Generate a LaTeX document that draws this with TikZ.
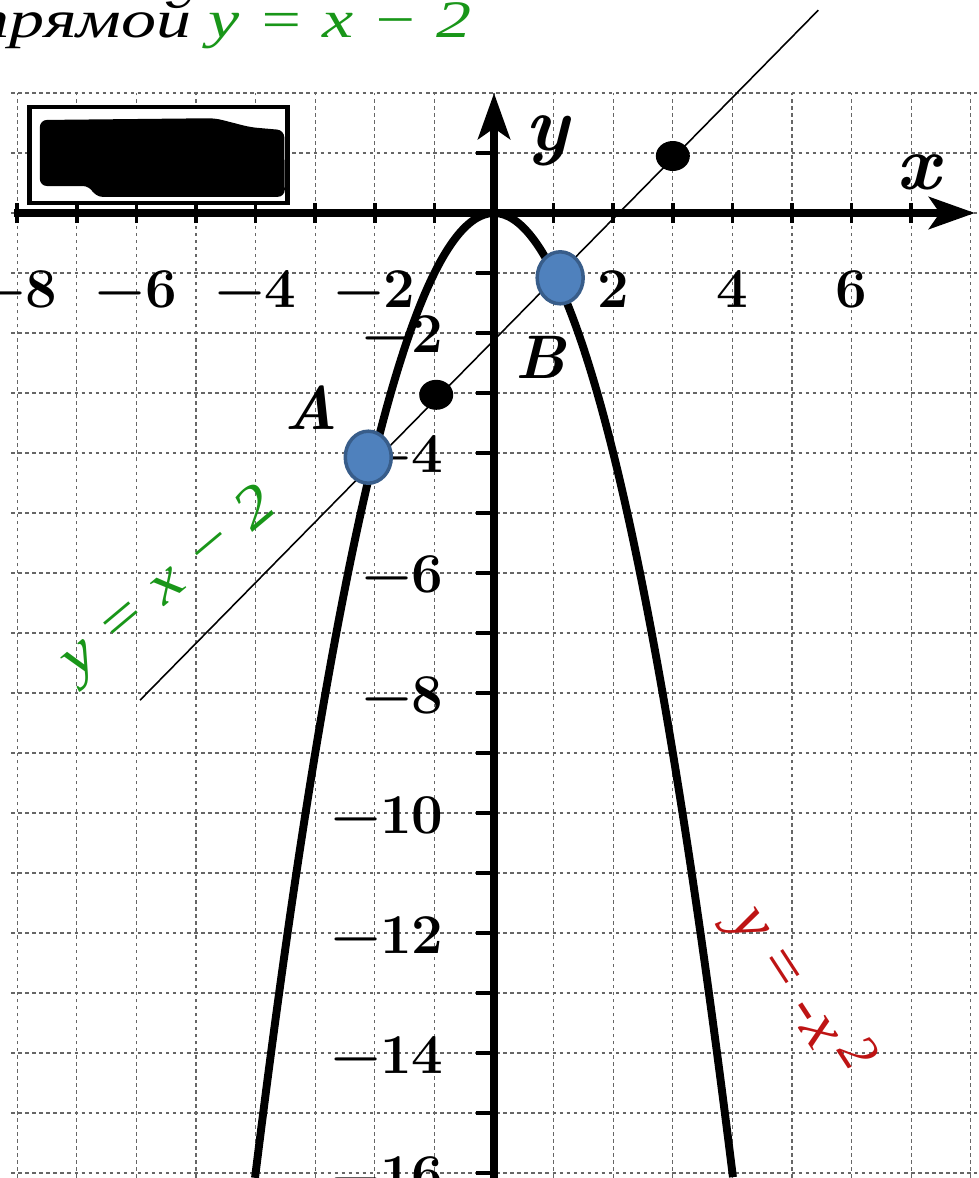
\documentclass[tikz,border=0pt]{standalone}
\usepackage{fontspec}
\usepackage{graphicx}
\newfontfamily\slantfont{Liberation Serif}
\usetikzlibrary{arrows.meta,shapes.geometric}
\definecolor{lineGreen}{RGB}{25,150,25}
\definecolor{curveRed}{RGB}{190,20,20}
\definecolor{pointBlue}{RGB}{79,129,189}
\definecolor{pointRim}{RGB}{56,93,138}

\begin{document}
\begin{tikzpicture}[x=1.192cm,y=1.2cm,>={Stealth[length=26pt,width=18pt,inset=6pt]}]
  \tikzstyle{grid line} = [black!60, line width=0.7pt, dash pattern=on 2pt off 2pt];
  \tikzstyle{axis} = [line width=5pt, ->];
  \tikzstyle{axis tick} = [line width=2pt];
  \tikzstyle{tick label} = [inner sep=0pt, font=\fontsize{32}{32}\selectfont\bfseries];
  \tikzstyle{axis name} = [font=\fontsize{44}{44}\selectfont\bfseries\itshape];
  \tikzstyle{big point} = [ellipse, minimum width=0.92cm, minimum height=1.04cm, fill=pointBlue, draw=pointRim, line width=2pt];
  \tikzstyle{small point} = [ellipse, minimum width=0.68cm, minimum height=0.6cm, fill=black, inner sep=0pt];
  \tikzstyle{point label} = [font=\fontsize{35}{35}\selectfont\bfseries\itshape];
  \useasboundingbox (-8.289,-16.083) rectangle (8.121,3.55);

  % grid of the scan
  \foreach \x in {-8,...,8} \draw[grid line] (\x,-16.2) -- (\x,2);
  \foreach \y in {-16,...,2} \draw[grid line] (-8.1,\y) -- (8.1,\y);

  % blacked-out box
  \draw[line width=2.8pt, fill=white] (-7.79,1.767) rectangle (-3.46,0.167);
  \fill[rounded corners=4pt] (-7.62,1.55) -- (-4.68,1.58) -- (-4.09,1.43) -- (-3.52,1.38) -- (-3.51,0.27) -- (-6.69,0.27) -- (-6.78,0.45) -- (-7.62,0.45) -- cycle;

  % axes
  \draw[axis] (-8.05,0) -- (8.07,0);
  \draw[axis] (0,-16.2) -- (0,2);
  \foreach \x in {-8,...,-1,1,2,...,7} \draw[axis tick] (\x,-0.17) -- (\x,0.17);
  \foreach \y in {-16,...,-1,1} \draw[axis tick] (-0.3,\y) -- (0,\y);
  \foreach \n in {8,6,4,2}
    \node[tick label, anchor=base] (xlabm\n) at (-\n,-1.567) {−\n};
  \foreach \n in {2,4,6}
    \node[tick label, anchor=base] (xlab\n) at (\n,-1.567) {\n};
  \foreach \n in {2,4,...,16}
    \node[tick label, anchor=base east] (ylab\n) at (-0.84,-\n-0.333) {−\n};
  \node[axis name] (yname) at (0.89,1.2) {y};
  \node[axis name] (xname) at (7.11,0.68) {x};

  % y = -x^2
  \draw[line width=4.5pt] plot[domain=-4.01:4.01, samples=120, smooth] (\x,{-(\x*\x)});

  % y = x - 2
  \coordinate (lineStart) at (-5.94,-8.12);
  \coordinate (lineEnd) at (5.44,3.38);
  \draw[line width=0.9pt] (lineStart) -- (lineEnd);

  \node[small point] (dotC) at (-0.97,-3.03) {};
  \node[small point] (dotD) at (3.0,0.95) {};
  \node[big point] (ptA) at (-2.11,-4.07) {};
  \node[big point] (ptB) at (1.11,-1.08) {};
  \node[point label] (labA) at (-3.07,-3.25) {A};
  \node[point label] (labB) at (0.79,-2.4) {B};

  % captions
  \node[anchor=base east, inner sep=0pt] (title) at (-0.38,2.93)
    {\slantfont\itshape\fontsize{30}{30}\selectfont\scalebox{1.33}[1]{прямой \textcolor{lineGreen}{y = x − 2}}};
  \node[rotate=40, text=lineGreen] (lineLabel) at (-5.44,-6.2)
    {\slantfont\itshape\fontsize{33}{33}\selectfont\scalebox{1.22}[1]{y = x − 2}};
  \node[rotate=-57, text=curveRed] (curveLabel) at (5.13,-12.98)
    {\slantfont\itshape\fontsize{37}{37}\selectfont y = -x\,\raisebox{.3em}{\fontsize{31}{31}\selectfont 2}};
\end{tikzpicture}
\end{document}
